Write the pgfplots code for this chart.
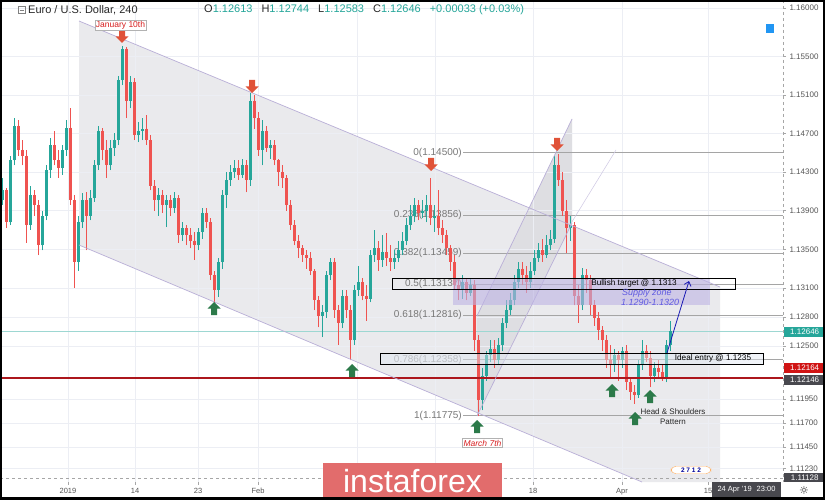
\documentclass[border=0pt]{standalone}
\usepackage{fontspec}
\setmainfont{Liberation Sans}
\newfontfamily\djv{DejaVu Sans}
\usepackage{pgfplots}
\usepackage{pgfplotstable}
\pgfplotsset{compat=1.18}
\usetikzlibrary{arrows.meta}
\definecolor{upc}{RGB}{38,166,154}
\definecolor{dnc}{RGB}{239,83,80}
\definecolor{chgrey}{RGB}{234,234,237}
\definecolor{chgreyb}{RGB}{222,222,226}
\definecolor{chline}{RGB}{185,175,215}
\definecolor{arrred}{RGB}{224,82,56}
\definecolor{arrgreen}{RGB}{44,122,74}
\definecolor{gridc}{RGB}{236,238,244}
\definecolor{fibc}{RGB}{165,165,165}
\definecolor{fibt}{RGB}{120,120,120}
\definecolor{redline}{RGB}{172,22,28}
\definecolor{supply}{RGB}{190,180,228}
\definecolor{supplyt}{RGB}{95,90,225}
\definecolor{logo}{RGB}{226,108,108}
\definecolor{darkbox}{RGB}{72,72,78}
\definecolor{redbox}{RGB}{208,20,20}
\definecolor{ticklab}{RGB}{85,85,85}
\definecolor{redtxt}{RGB}{215,30,30}
\definecolor{navy}{RGB}{25,25,180}
\definecolor{hdr}{RGB}{40,40,40}
\definecolor{idealfill}{RGB}{225,232,242}
\definecolor{tvblue}{RGB}{33,150,243}

\newcommand{\fs}[1]{\fontsize{#1}{#1}\selectfont}
\newcommand{\darrow}[2]{\fill[arrred] (axis cs:#1,#2) ++(-3pt,0) -- ++(6pt,0) -- ++(0,-6.5pt) -- ++(3.5pt,0) -- ++(-6.5pt,-6.5pt) -- ++(-6.5pt,6.5pt) -- ++(3.5pt,0) -- cycle;}
\newcommand{\uarrow}[2]{\fill[arrgreen] (axis cs:#1,#2) ++(-3pt,0) -- ++(6pt,0) -- ++(0,6.5pt) -- ++(3.5pt,0) -- ++(-6.5pt,6.5pt) -- ++(-6.5pt,-6.5pt) -- ++(3.5pt,0) -- cycle;}

\pgfplotstableread{
x o h l c
2 1.1401 1.1424 1.1396 1.1411
6 1.1411 1.1413 1.1372 1.1378
10 1.1378 1.1447 1.1375 1.1442
14 1.1442 1.1486 1.1437 1.1478
18 1.1478 1.1484 1.1447 1.1453
22 1.1453 1.1463 1.1437 1.1447
26 1.1447 1.1453 1.1357 1.1375
30 1.1375 1.1416 1.1370 1.1406
34 1.1406 1.1411 1.1385 1.1396
38 1.1396 1.1401 1.1344 1.1354
42 1.1354 1.1390 1.1349 1.1385
46 1.1385 1.1437 1.1380 1.1432
50 1.1432 1.1465 1.1424 1.1458
54 1.1458 1.1473 1.1437 1.1442
58 1.1442 1.1453 1.1424 1.1434
62 1.1434 1.1458 1.1427 1.1453
66 1.1453 1.1484 1.1447 1.1476
70 1.1476 1.1496 1.1396 1.1401
74 1.1401 1.1406 1.1310 1.1337
78 1.1337 1.1385 1.1328 1.1378
82 1.1378 1.1408 1.1372 1.1401
86 1.1401 1.1409 1.1349 1.1385
90 1.1385 1.1411 1.1380 1.1403
94 1.1403 1.1442 1.1399 1.1437
98 1.1437 1.1478 1.1432 1.1473
102 1.1473 1.1476 1.1442 1.1453
106 1.1453 1.1463 1.1424 1.1437
110 1.1437 1.1463 1.1432 1.1455
114 1.1455 1.1471 1.1447 1.1463
118 1.1463 1.1530 1.1458 1.1525
122 1.1525 1.1561 1.1520 1.1558
126 1.1558 1.1560 1.1486 1.1504
130 1.1504 1.1530 1.1496 1.1523
134 1.1523 1.1527 1.1463 1.1468
138 1.1468 1.1482 1.1461 1.1473
142 1.1473 1.1486 1.1463 1.1475
146 1.1475 1.1489 1.1458 1.1463
150 1.1463 1.1468 1.1411 1.1416
154 1.1416 1.1422 1.1390 1.1401
158 1.1401 1.1413 1.1385 1.1406
162 1.1406 1.1411 1.1388 1.1396
166 1.1396 1.1406 1.1373 1.1401
170 1.1401 1.1406 1.1385 1.1393
174 1.1393 1.1409 1.1388 1.1403
178 1.1403 1.1406 1.1357 1.1365
182 1.1365 1.1378 1.1359 1.1372
186 1.1372 1.1375 1.1354 1.1365
190 1.1365 1.1372 1.1351 1.1359
194 1.1359 1.1368 1.1339 1.1354
198 1.1354 1.1372 1.1349 1.1368
202 1.1368 1.1393 1.1361 1.1388
206 1.1388 1.1393 1.1372 1.1378
210 1.1378 1.1382 1.1318 1.1323
214 1.1323 1.1328 1.1294 1.1308
218 1.1308 1.1341 1.1301 1.1337
222 1.1337 1.1411 1.1330 1.1406
226 1.1406 1.1430 1.1393 1.1422
230 1.1422 1.1437 1.1416 1.1430
234 1.1430 1.1442 1.1424 1.1434
238 1.1434 1.1442 1.1422 1.1427
242 1.1427 1.1444 1.1424 1.1437
246 1.1437 1.1442 1.1409 1.1422
250 1.1422 1.1512 1.1416 1.1504
254 1.1504 1.1510 1.1475 1.1486
258 1.1486 1.1492 1.1447 1.1453
262 1.1453 1.1484 1.1437 1.1473
266 1.1473 1.1478 1.1451 1.1455
270 1.1455 1.1463 1.1444 1.1458
274 1.1458 1.1463 1.1437 1.1442
278 1.1442 1.1444 1.1416 1.1430
282 1.1430 1.1437 1.1414 1.1424
286 1.1424 1.1427 1.1390 1.1396
290 1.1396 1.1401 1.1370 1.1375
294 1.1375 1.1380 1.1354 1.1359
298 1.1359 1.1365 1.1341 1.1351
302 1.1351 1.1354 1.1337 1.1344
306 1.1344 1.1349 1.1330 1.1341
310 1.1341 1.1347 1.1323 1.1328
314 1.1328 1.1330 1.1287 1.1297
318 1.1297 1.1302 1.1269 1.1281
322 1.1281 1.1292 1.1259 1.1285
326 1.1285 1.1328 1.1279 1.1323
330 1.1323 1.1341 1.1318 1.1337
334 1.1337 1.1341 1.1279 1.1287
338 1.1287 1.1292 1.1251 1.1274
342 1.1274 1.1308 1.1268 1.1302
346 1.1302 1.1308 1.1279 1.1287
350 1.1287 1.1292 1.1235 1.1256
354 1.1256 1.1313 1.1251 1.1308
358 1.1308 1.1333 1.1302 1.1316
362 1.1316 1.1320 1.1297 1.1302
366 1.1302 1.1313 1.1276 1.1299
370 1.1299 1.1349 1.1295 1.1344
374 1.1344 1.1370 1.1337 1.1351
378 1.1351 1.1359 1.1328 1.1339
382 1.1339 1.1365 1.1332 1.1347
386 1.1347 1.1367 1.1333 1.1341
390 1.1341 1.1354 1.1328 1.1337
394 1.1337 1.1349 1.1330 1.1341
398 1.1341 1.1359 1.1337 1.1349
402 1.1349 1.1368 1.1344 1.1359
406 1.1359 1.1382 1.1354 1.1375
410 1.1375 1.1396 1.1370 1.1385
414 1.1385 1.1403 1.1378 1.1396
418 1.1396 1.1401 1.1380 1.1388
422 1.1388 1.1401 1.1382 1.1390
426 1.1390 1.1406 1.1378 1.1396
430 1.1396 1.1424 1.1375 1.1382
434 1.1382 1.1396 1.1368 1.1385
438 1.1385 1.1411 1.1365 1.1372
442 1.1372 1.1380 1.1357 1.1365
446 1.1365 1.1370 1.1344 1.1351
450 1.1351 1.1354 1.1328 1.1337
454 1.1337 1.1344 1.1308 1.1313
458 1.1313 1.1320 1.1297 1.1308
462 1.1308 1.1323 1.1299 1.1316
466 1.1316 1.1320 1.1297 1.1305
470 1.1305 1.1320 1.1302 1.1313
474 1.1313 1.1318 1.1245 1.1256
478 1.1256 1.1261 1.1177 1.1194
482 1.1194 1.1227 1.1183 1.1219
486 1.1219 1.1245 1.1214 1.1240
490 1.1240 1.1256 1.1233 1.1247
494 1.1247 1.1256 1.1227 1.1235
498 1.1235 1.1258 1.1230 1.1251
502 1.1251 1.1279 1.1245 1.1274
506 1.1274 1.1297 1.1268 1.1287
510 1.1287 1.1305 1.1282 1.1297
514 1.1297 1.1323 1.1292 1.1316
518 1.1316 1.1337 1.1310 1.1330
522 1.1330 1.1337 1.1313 1.1323
526 1.1323 1.1333 1.1305 1.1316
530 1.1316 1.1337 1.1310 1.1328
534 1.1328 1.1349 1.1323 1.1341
538 1.1341 1.1357 1.1337 1.1349
542 1.1349 1.1361 1.1337 1.1344
546 1.1344 1.1365 1.1341 1.1354
550 1.1354 1.1370 1.1349 1.1361
554 1.1361 1.1447 1.1357 1.1437
558 1.1437 1.1449 1.1416 1.1422
562 1.1422 1.1430 1.1385 1.1390
566 1.1390 1.1401 1.1346 1.1372
570 1.1372 1.1385 1.1359 1.1375
574 1.1375 1.1378 1.1292 1.1302
578 1.1302 1.1313 1.1274 1.1292
582 1.1292 1.1331 1.1287 1.1323
586 1.1323 1.1330 1.1305 1.1318
590 1.1318 1.1323 1.1282 1.1292
594 1.1292 1.1297 1.1271 1.1279
598 1.1279 1.1285 1.1256 1.1266
602 1.1266 1.1271 1.1245 1.1256
606 1.1256 1.1261 1.1227 1.1235
610 1.1235 1.1251 1.1216 1.1230
614 1.1230 1.1247 1.1223 1.1240
618 1.1240 1.1245 1.1214 1.1235
622 1.1235 1.1249 1.1227 1.1245
626 1.1245 1.1251 1.1204 1.1212
630 1.1212 1.1216 1.1194 1.1202
634 1.1202 1.1209 1.1190 1.1199
638 1.1199 1.1235 1.1196 1.1230
642 1.1230 1.1256 1.1225 1.1245
646 1.1245 1.1251 1.1233 1.1237
650 1.1237 1.1245 1.1207 1.1219
654 1.1219 1.1233 1.1212 1.1227
658 1.1227 1.1235 1.1216 1.1223
662 1.1223 1.1230 1.1214 1.1216
666 1.1216 1.1256 1.1212 1.1251
670 1.1251 1.1276 1.1245 1.1265
}\candles

\begin{document}
\begin{tikzpicture}[x=1pt,y=1pt]
\useasboundingbox (0,0) rectangle (825,500);
\fill[white] (0,0) rectangle (825,500);
\pgfplotsset{pix/.style={scale only axis, width=783pt, height=482pt, at={(0pt,18pt)}, anchor=south west, xmin=0, xmax=783, ymin=0, ymax=482, y dir=reverse, hide axis}}
% ---------- background shapes (pixel overlay) ----------
\begin{axis}[pix]
\fill[chgrey] (axis cs:79,21) -- (axis cs:720,287) -- (axis cs:720,482) -- (axis cs:642,482) -- (axis cs:79,245) -- cycle;
\fill[chgreyb] (axis cs:477,316) -- (axis cs:572,119) -- (axis cs:572,223) -- (axis cs:477,416) -- cycle;
\end{axis}
% ---------- price axis ----------
\begin{axis}[scale only axis, width=783pt, height=482pt, at={(0pt,18pt)}, anchor=south west,
  xmin=0, xmax=783, ymin=1.11089, ymax=1.16083,
  axis line style={draw=none},
  xtick={68,135,198,258,533,622,708},
  xticklabels={2019,14,23,Feb,18,Apr,15},
  extra x ticks={357,435}, extra x tick labels={},
  ytick={1.1123,1.1145,1.117,1.1195,1.125,1.128,1.131,1.135,1.139,1.143,1.147,1.151,1.155,1.16},
  xtick pos=bottom, ytick pos=right, yticklabel pos=right,
  tick align=outside, major tick length=3pt,
  tick style={color=gray!70, line width=0.5pt},
  grid=major, major grid style={gridc, line width=0.6pt},
  extra tick style={grid=major, major grid style={gridc, line width=0.6pt}},
  scaled y ticks=false,
  /pgf/number format/assume math mode=true,
  y tick label style={/pgf/number format/fixed, /pgf/number format/fixed zerofill, /pgf/number format/precision=5, font=\fs{8}, text=ticklab},
  x tick label style={font=\fs{7.5}, text=ticklab},
  clip=false]
% level lines
\addplot[gray!70, dashed, line width=0.6pt] coordinates {(0,1.11128) (783,1.11128)};
\addplot[upc!45, line width=0.6pt] coordinates {(0,1.12646) (783,1.12646)};
\addplot[fibc, line width=0.7pt] coordinates {(463,1.145) (783,1.145)};
\addplot[fibc, line width=0.7pt] coordinates {(463,1.13856) (783,1.13856)};
\addplot[fibc, line width=0.7pt] coordinates {(463,1.13459) (783,1.13459)};
\addplot[fibc, line width=0.7pt] coordinates {(463,1.13137) (783,1.13137)};
\addplot[fibc, line width=0.7pt] coordinates {(463,1.12816) (783,1.12816)};
\addplot[fibc, line width=0.7pt] coordinates {(463,1.12358) (783,1.12358)};
\addplot[fibc, line width=0.7pt] coordinates {(463,1.11775) (783,1.11775)};
\node[anchor=east, font=\fs{10}, text=fibt, inner sep=1pt] at (axis cs:463,1.145) {0(1.14500)};
\node[anchor=east, font=\fs{10}, text=fibt, inner sep=1pt] at (axis cs:463,1.13856) {0.236(1.13856)};
\node[anchor=east, font=\fs{10}, text=fibt, inner sep=1pt] at (axis cs:463,1.13459) {0.382(1.13459)};
\node[anchor=east, font=\fs{10}, text=fibt, inner sep=1pt] at (axis cs:463,1.13137) {0.5(1.13137)};
\node[anchor=east, font=\fs{10}, text=fibt, inner sep=1pt] at (axis cs:463,1.12816) {0.618(1.12816)};
\node[anchor=east, font=\fs{10}, text=fibt!70, inner sep=1pt] at (axis cs:463,1.12358) {0.786(1.12358)};
\node[anchor=east, font=\fs{10}, text=fibt, inner sep=1pt] at (axis cs:463,1.11775) {1(1.11775)};
% candles: wicks (low to high)
\addplot[upc, line width=0.8pt, restrict expr to domain={\thisrow{c}-\thisrow{o}}{0:1},
  quiver={u=0, v=\thisrow{h}-\thisrow{l}}]
  table[x=x, y=l] {\candles};
\addplot[dnc, line width=0.8pt, restrict expr to domain={\thisrow{c}-\thisrow{o}}{-1:0},
  quiver={u=0, v=\thisrow{h}-\thisrow{l}}]
  table[x=x, y=l] {\candles};
% candles: bodies (open to close)
\addplot[upc, line width=3pt, restrict expr to domain={\thisrow{c}-\thisrow{o}}{0:1},
  quiver={u=0, v=\thisrow{c}-\thisrow{o}}]
  table[x=x, y=o] {\candles};
\addplot[dnc, line width=3pt, restrict expr to domain={\thisrow{c}-\thisrow{o}}{-1:0},
  quiver={u=0, v=\thisrow{c}-\thisrow{o}}]
  table[x=x, y=o] {\candles};
% support line
\addplot[redline, line width=1.8pt] coordinates {(0,1.12164) (783,1.12164)};
\end{axis}
% ---------- annotations (pixel overlay) ----------
\begin{axis}[pix, clip=false]
% channel lines
\draw[chline, line width=0.7pt] (axis cs:79,21) -- (axis cs:720,287);
\draw[chline, line width=0.7pt] (axis cs:79,245) -- (axis cs:642,482);
\draw[chline, line width=0.7pt] (axis cs:477,316) -- (axis cs:572,119);
\draw[chline, line width=0.7pt] (axis cs:477,416) -- (axis cs:572,223);
\draw[chline!70, line width=0.5pt] (axis cs:570,225) -- (axis cs:616,150);
% supply zone and boxes
\fill[supply, opacity=0.6] (axis cs:453,278) rectangle (axis cs:710,305);
\draw[black, line width=0.7pt] (axis cs:392,278) rectangle (axis cs:735,289);
\draw[black, line width=0.7pt, fill=idealfill, fill opacity=0.45] (axis cs:380,353) rectangle (axis cs:763,364);
\node[font=\fs{8.2}, inner sep=0pt] at (axis cs:634,283.5) {Bullish target @ 1.1313};
\node[font=\fs{8.2}, inner sep=0pt] at (axis cs:713,358.5) {Ideal entry @ 1.1235};
\node[font=\fs{9}\itshape, text=supplyt, anchor=west, inner sep=0pt] at (axis cs:622,293) {Supply zone};
\node[font=\fs{9}\itshape, text=supplyt, anchor=west, inner sep=0pt] at (axis cs:621,302) {1.1290-1.1320};
\draw[navy, line width=0.8pt, -{Straight Barb[length=4pt,width=7pt]}] (axis cs:667,353) -- (axis cs:689,281);
% arrows
\darrow{122}{30}
\darrow{252}{80}
\darrow{431}{158}
\darrow{557}{138}
\uarrow{214}{315}
\uarrow{352}{377}
\uarrow{477}{433}
\uarrow{612}{397}
\uarrow{635}{425}
\uarrow{650}{403}
% labels
\node[draw=gray!60, fill=white, text=redtxt, font=\fs{8.5}, inner sep=1.2pt] at (axis cs:120.5,25) {January 10th};
\node[draw=gray!60, fill=white, text=redtxt, font=\fs{8.5}\itshape, inner sep=1.2pt] at (axis cs:482.5,443) {March 7th};
\node[font=\fs{8}, text=hdr, inner sep=0pt] at (axis cs:673,412) {Head \& Shoulders};
\node[font=\fs{8}, text=hdr, inner sep=0pt] at (axis cs:673,421.5) {Pattern};
% header
\draw[gray, line width=0.5pt] (axis cs:18,6.5) rectangle (axis cs:25,13.5);
\draw[gray, line width=0.5pt] (axis cs:19.5,10) -- (axis cs:23.5,10);
\node[anchor=west, font=\fs{11}, text=hdr, inner sep=0pt] at (axis cs:28,10) {Euro / U.S. Dollar, 240};
\node[anchor=west, font=\fs{11}, text=hdr, inner sep=0pt] at (axis cs:204,10) {O\textcolor{upc}{1.12613}\hspace{9pt}H\textcolor{upc}{1.12744}\hspace{9pt}L\textcolor{upc}{1.12583}\hspace{9pt}C\textcolor{upc}{1.12646}\hspace{9pt}\textcolor{upc}{+0.00033 (+0.03\%)}};
\fill[tvblue] (axis cs:766,24) rectangle (axis cs:774,33);
% right edge
\draw[gray!70, dashed, line width=0.6pt] (axis cs:783,0) -- (axis cs:783,482);
\node[fill=upc, text=white, anchor=west, minimum width=41pt, minimum height=10pt, inner sep=0pt, font=\fs{8}] at (axis cs:784,332) {1.12646};
\node[fill=redbox, text=white, anchor=west, minimum width=41pt, minimum height=10pt, inner sep=0pt, font=\fs{8}] at (axis cs:784,368) {1.12164};
\node[fill=darkbox, text=white, anchor=west, minimum width=41pt, minimum height=10pt, inner sep=0pt, font=\fs{8}] at (axis cs:784,380) {1.12146};
\node[fill=darkbox, text=white, anchor=west, minimum width=41pt, minimum height=9.5pt, inner sep=0pt, font=\fs{8}] at (axis cs:784,477.5) {1.11128};
% bottom widgets
\node[draw=orange!60, fill=white, rounded corners=5pt, font=\fs{6.5}\bfseries, text=blue!60!black, inner sep=1.5pt, minimum width=40pt] at (axis cs:691,470) {2\ 7\ 1\ 2};
\fill[darkbox] (axis cs:712,482) rectangle (axis cs:781,497);
\node[text=white, font=\fs{7.5}, inner sep=0pt] at (axis cs:746.5,489.5) {24 Apr '19\hspace{5pt}23:00};
\fill[logo] (axis cs:323,463) rectangle (axis cs:502,500);
\node[anchor=base, text=white, font=\fs{32}, inner sep=0pt] at (axis cs:412.5,492) {instaforex};
\end{axis}
\node[font=\djv\fs{11}, text=hdr] at (804,10) {☼};
\fill[black] (0,0) rectangle (825,3);
\fill[black] (0,0) rectangle (2,500);
\fill[black] (823,0) rectangle (825,500);
\fill[black] (0,498) rectangle (825,500);
\end{tikzpicture}
\end{document}
